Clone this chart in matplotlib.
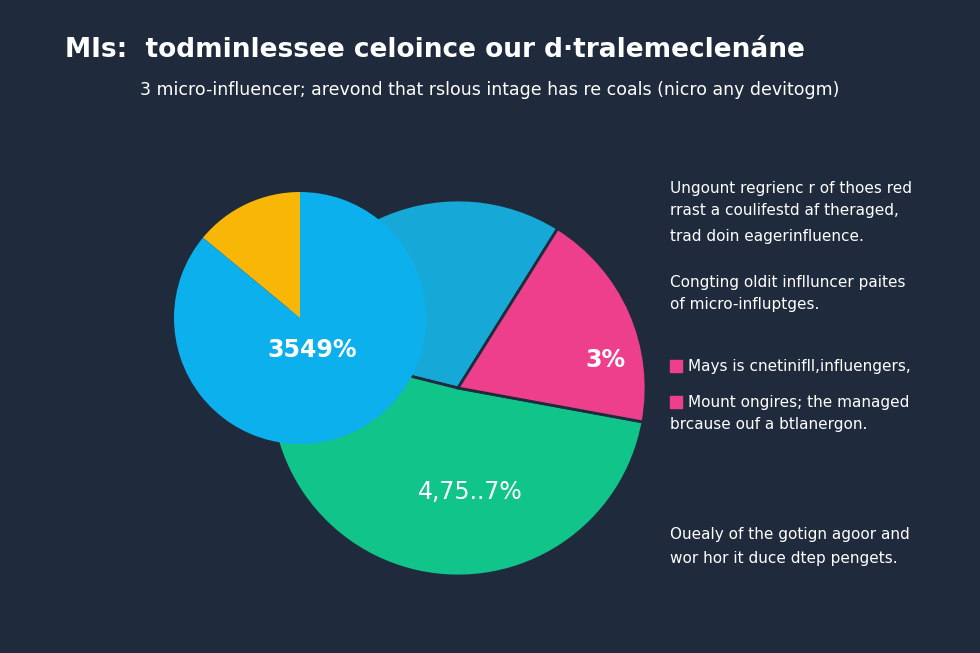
import matplotlib.pyplot as plt
from matplotlib.patches import Rectangle

BG = '#1f2b3c'

# big pie
big_labels = ['cyan', 'green', 'pink']
big_values = [30, 51, 19]
big_colors = ['#16a9d8', '#11c48a', '#ee3f8d']
big_texts = ['', '4,75..7%', '3%']

# small overlapping pie
small_values = [14, 86]
small_colors = ['#f8b606', '#0bb0ec']

title = 'MIs:  todminlessee celoince our d·tralemeclenáne'
subtitle = '3 micro-influencer; arevond that rslous intage has re coals (nicro any devitogm)'

notes = [
    (188, 'Ungount regrienc r of thoes red', False),
    (211, 'rrast a coulifestd af theraged,', False),
    (236, 'trad doin eagerinfluence.', False),
    (282, 'Congting oldit inflluncer paites', False),
    (304, 'of micro-influptges.', False),
    (366, 'Mays is cnetinifll,influengers,', True),
    (402, 'Mount ongires; the managed', True),
    (424, 'brcause ouf a btlanergon.', False),
    (535, 'Ouealy of the gotign agoor and', False),
    (558, 'wor hor it duce dtep pengets.', False),
]

W, H = 980, 653
fig = plt.figure(figsize=(9.8, 6.53), dpi=100, facecolor=BG)
ax = fig.add_axes([0, 0, 1, 1])
ax.set_xlim(0, W)
ax.set_ylim(0, H)
ax.set_aspect('equal')
ax.axis('off')
ax.set_facecolor(BG)

ax.pie(big_values, colors=big_colors, startangle=58, counterclock=True,
       center=(458, H - 388), radius=188, explode=[0, 0, 0.03],
       wedgeprops=dict(edgecolor=BG, linewidth=2), frame=True)
ax.pie(small_values, colors=small_colors, startangle=90, counterclock=True,
       center=(300, H - 318), radius=126, wedgeprops=dict(linewidth=0), frame=True)
ax.set_xlim(0, W)
ax.set_ylim(0, H)
ax.axis('off')

ax.text(312, H - 350, '3549%', color='white', fontsize=17, fontweight='bold', ha='center', va='center')
ax.text(470, H - 492, big_texts[1], color='white', fontsize=17, ha='center', va='center')
ax.text(605, H - 360, big_texts[2], color='white', fontsize=17, fontweight='bold', ha='center', va='center')

ax.text(65, H - 50, title, color='white', fontsize=19, fontweight='bold', ha='left', va='center')
ax.text(490, H - 90, subtitle, color='white', fontsize=12.5, ha='center', va='center')

for y, txt, marker in notes:
    x = 670
    if marker:
        ax.add_patch(Rectangle((670, H - y - 6), 12, 12, color='#ee3f8d'))
        x = 688
    ax.text(x, H - y, txt, color='white', fontsize=11, ha='left', va='center')

fig.savefig('out.png', dpi=100, facecolor=BG)
